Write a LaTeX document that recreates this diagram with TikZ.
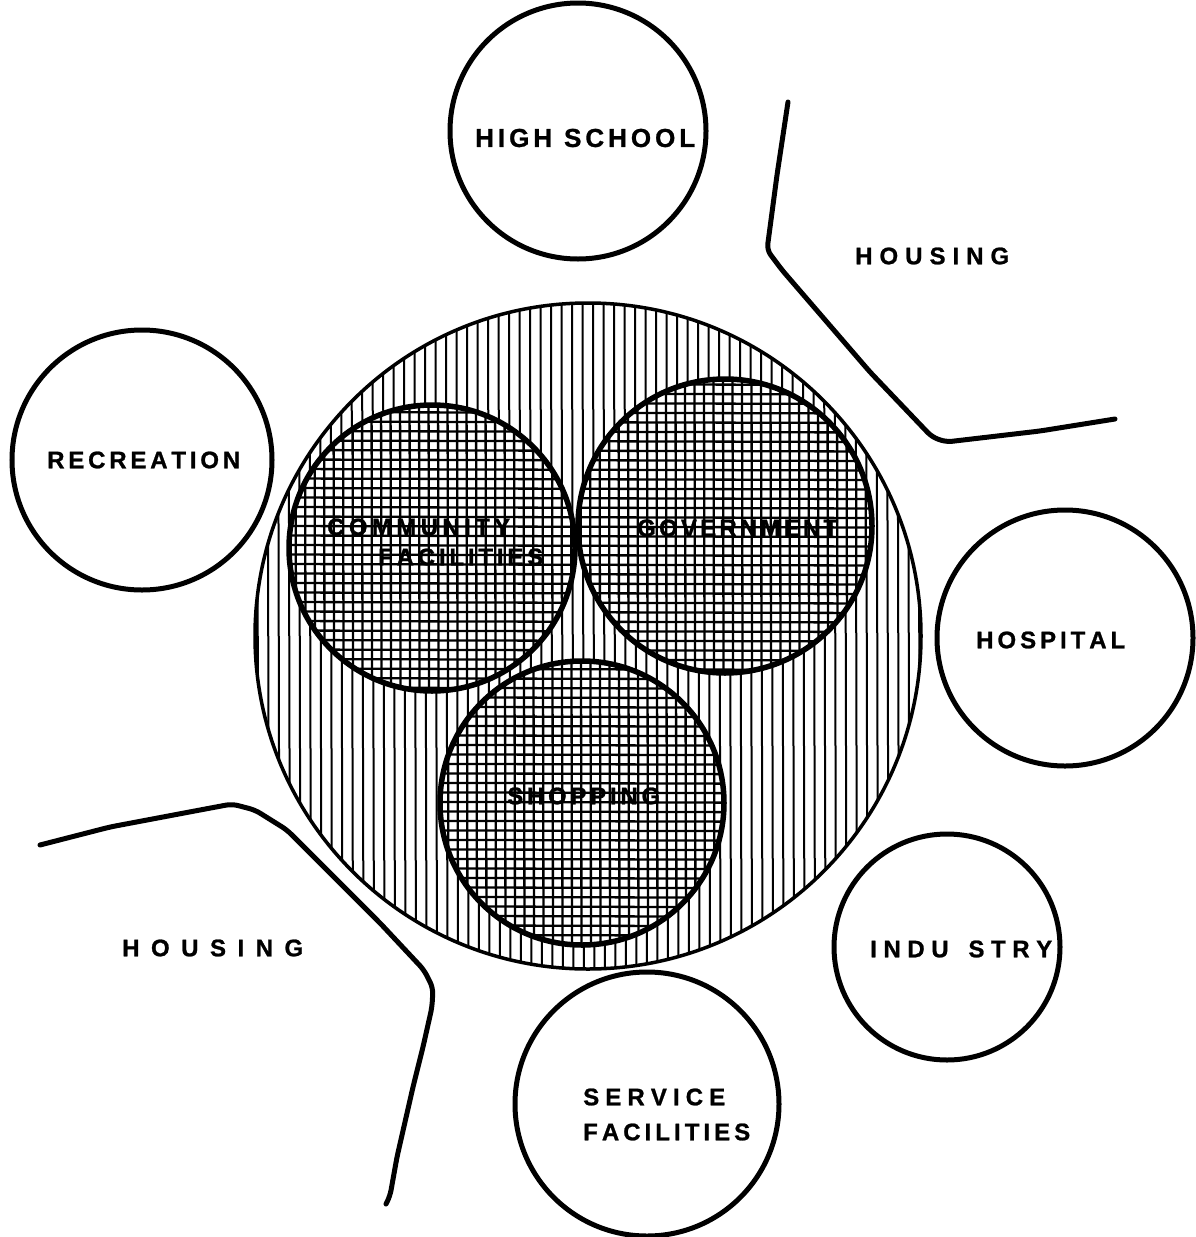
\documentclass[tikz,border=0pt]{standalone}
\usepackage{fontspec}
\setmainfont{Liberation Sans}
\newfontfamily\lblfont[UprightFont={* Bold},FakeBold=1]{Liberation Sans}
\newcommand\lsp{\hfil}
\newcommand\wsp{\hskip 0pt plus 3fil}
\begin{document}
\begin{tikzpicture}[x=1pt,y=-1pt,
  ring/.style={circle,draw,line width=5pt,inner sep=0pt},
  bigring/.style={circle,draw,line width=3.5pt,inner sep=0pt},
  innerring/.style={circle,draw,line width=5.5pt,inner sep=0pt},
  lbl/.style={anchor=west,inner sep=0pt,font=\lblfont\fontsize{24}{24}\selectfont},
  hatch/.style={line width=2pt},
  grid/.style={line width=2.3pt},
  boundary/.style={line width=5pt,rounded corners=6pt,line cap=round,line join=round}]
\useasboundingbox (0,0) rectangle (1195,1237);
\fill[white] (0,0) rectangle (1195,1237);

% outer circles
\node (hs)  [ring,minimum size=256pt] at (578,131) {};
\node (rec) [ring,minimum size=260pt] at (142,460) {};
\node (hos) [ring,minimum size=256pt] at (1065,638) {};
\node (ind) [ring,minimum size=226pt] at (947,947) {};
\node (ser) [ring,minimum size=264pt] at (647,1104) {};

% hatching of the central circle (outside the inner circles)
\begin{scope}[even odd rule]
  \clip (588,636) circle[radius=333pt]
     (432,548) circle[radius=143pt]
     (725,526) circle[radius=147pt]
     (582,803) circle[radius=142pt];
  \foreach \x in {257,267.5,...,922} \draw[hatch] (\x,300) -- (\x+1.5,975);
\end{scope}
% cross hatching of the inner circles
\begin{scope}
  \clip (432,548) circle[radius=143pt]
        (725,526) circle[radius=147pt]
        (582,803) circle[radius=142pt];
  \foreach \x in {286,295.5,...,876} \draw[grid] (\x,370) -- (\x+1,950);
  \foreach \y in {374,383.5,...,950} \draw[grid] (284,\y) -- (876,\y+1.5);
\end{scope}

\node (center) [bigring,minimum size=666pt] at (588,636) {};
\node (com) [innerring,minimum size=286pt] at (432,548) {};
\node (gov) [innerring,minimum size=294pt] at (725,526) {};
\node (shop) [innerring,minimum size=284pt] at (582,803) {};

% housing boundaries
\coordinate (h1a) at (788,102);
\coordinate (h1b) at (1115,419);
\draw[boundary] (h1a) -- (777,175) -- (767,250) -- (782,270) -- (870,372) -- (932,437) -- (946,442) -- (1040,431) -- (h1b);
\coordinate (h2a) at (40,845);
\coordinate (h2b) at (386,1204);
\draw[boundary] (h2a) -- (110,827) -- (200,810) -- (232,804) -- (255,810) -- (287,830) -- (320,863) -- (380,923) -- (424,970) -- (433,988) -- (432,1007) -- (423,1047) -- (413,1087) -- (397,1157) -- (390,1196) -- (h2b);

% labels
\node (ths) [lbl,font=\lblfont\fontsize{26}{26}\selectfont] at (475,138)
  {\makebox[220pt][s]{H\lsp I\lsp G\lsp H\wsp S\lsp C\lsp H\lsp O\lsp O\lsp L}};
\node (th1) [lbl] at (855,256) {\makebox[154pt][s]{H\lsp O\lsp U\lsp S\lsp I\lsp N\lsp G}};
\node (trec) [lbl] at (47,460) {\makebox[193pt][s]{R\lsp E\lsp C\lsp R\lsp E\lsp A\lsp T\lsp I\lsp O\lsp N}};
\node (thos) [lbl] at (976,640) {\makebox[149pt][s]{H\lsp O\lsp S\lsp P\lsp I\lsp T\lsp A\lsp L}};
\node (tind) [lbl] at (870,949) {\makebox[182pt][s]{I\lsp N\lsp D\lsp U\wsp S\lsp T\lsp R\lsp Y}};
\node (tser1) [lbl] at (583,1097) {\makebox[142pt][s]{S\lsp E\lsp R\lsp V\lsp I\lsp C\lsp E}};
\node (tser2) [lbl] at (583,1132) {\makebox[167pt][s]{F\lsp A\lsp C\lsp I\lsp L\lsp I\lsp T\lsp I\lsp E\lsp S}};
\node (th2) [lbl] at (122,948) {\makebox[181pt][s]{H\lsp O\lsp U\lsp S\lsp I\lsp N\lsp G}};
\node (tcom1) [lbl] at (327,527) {\makebox[183pt][s]{C\lsp O\lsp M\lsp M\lsp U\lsp N\lsp I\lsp T\lsp Y}};
\node (tcom2) [lbl] at (378,557) {\makebox[165pt][s]{F\lsp A\lsp C\lsp I\lsp L\lsp I\lsp T\lsp I\lsp E\lsp S}};
\node (tgov) [lbl] at (637,528) {\makebox[201pt][s]{G\lsp O\lsp V\lsp E\lsp R\lsp N\lsp M\lsp E\lsp N\lsp T}};
\node (tshop) [lbl] at (507,796) {\makebox[153pt][s]{S\lsp H\lsp O\lsp P\lsp P\lsp I\lsp N\lsp G}};
\end{tikzpicture}
\end{document}
